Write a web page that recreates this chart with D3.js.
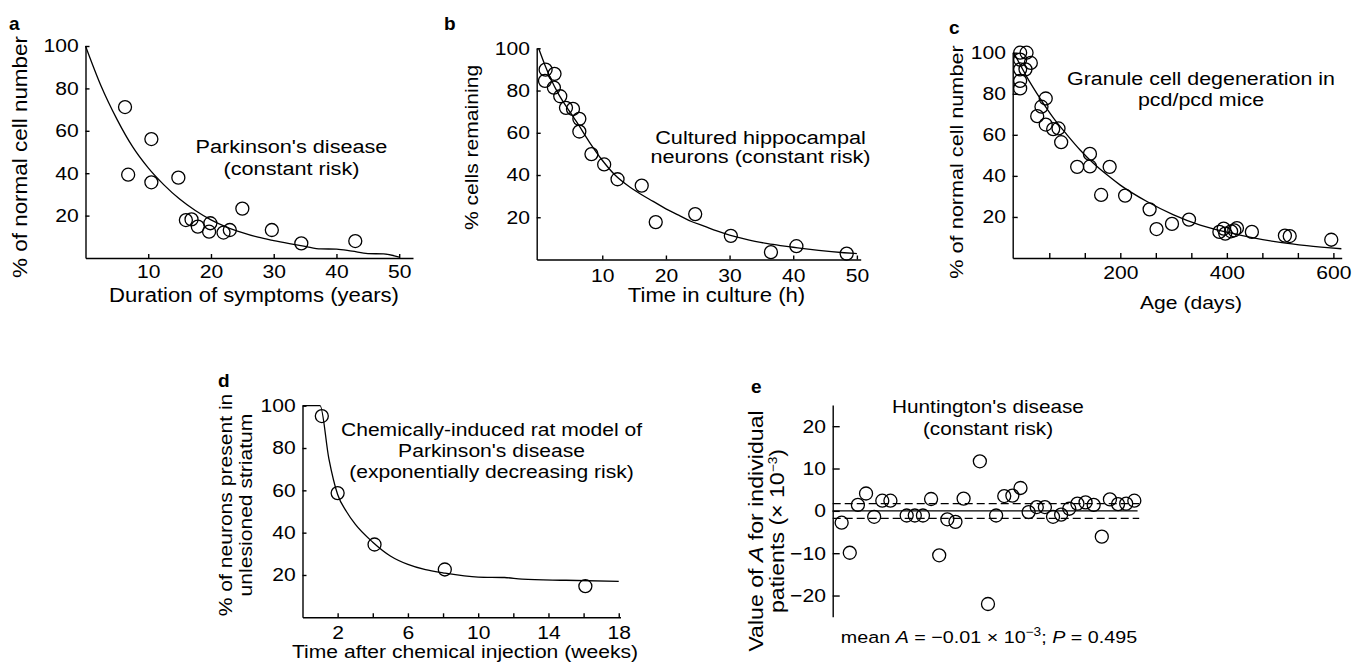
<!DOCTYPE html>
<html>
<head>
<meta charset="utf-8">
<script src="https://cdnjs.cloudflare.com/ajax/libs/d3/7.8.5/d3.min.js"></script>
<style>
body { margin: 0; background: #fff; }
svg text { font-family: "Liberation Sans", Arial, Helvetica, sans-serif; fill: #000; }
.axis path, .axis line { stroke: #000; stroke-width: 1.4; }
.axis text { font-size: 18.5px; font-family: "Liberation Sans", Arial, Helvetica, sans-serif; }
.fit { fill: none; stroke: #000; stroke-width: 1.3; }
.pt { fill: none; stroke: #000; stroke-width: 1.3; }
.letter { font-weight: bold; font-size: 19px; }
</style>
</head>
<body>
<svg id="fig" width="1364" height="669"></svg>
<script>
/* font is wider than Liberation Sans, so texts get a small horizontal stretch */
const FS = 18.5;
const SX = 1.14;

/* a : Parkinson's disease */
let aPtX = [6.3, 6.8, 10.5, 10.5, 14.8, 16.0, 16.9, 17.9, 19.9, 19.7, 22.0, 23.0, 25.0, 29.7, 34.4, 43.0];
let aPtY = [71.2, 39.3, 56.1, 35.7, 37.9, 17.9, 18.2, 14.8, 16.4, 12.4, 12.0, 13.2, 23.3, 13.2, 6.9, 8.0];
let aFitX = [0, 2.5, 5, 7.5, 10, 12.5, 15, 17.5, 20, 22.5, 25, 27.5, 30, 32.5, 35, 37.5, 40, 42.5, 45, 47.5, 50];
let aFitY = [100, 81, 65.5, 52.5, 42.5, 34.5, 27.8, 22.4, 18, 14.6, 12, 9.8, 8.2, 6.8, 5.5, 4.3, 4.2, 3.2, 2.1, 1.9, 0.4];

/* b : cultured hippocampal neurons */
let bPtX = [1.1, 1.0, 2.5, 2.4, 3.4, 4.3, 5.4, 6.4, 6.4, 8.3, 10.3, 12.4, 16.2, 18.4, 24.6, 30.2, 36.5, 40.5, 48.4];
let bPtY = [89.9, 84.6, 87.9, 81.4, 77.3, 71.8, 71.3, 66.6, 60.6, 49.9, 45.0, 38.0, 35.0, 17.7, 21.5, 11.2, 3.5, 6.3, 2.8];
let bFitX = [0, 1, 2, 3, 4, 5, 6, 8, 10, 12, 14, 16, 18, 20, 22, 24, 26, 28, 30, 32, 34, 36, 38, 40, 42, 44, 46, 48, 50];
let bFitY = [100, 92, 85, 79, 74, 69.5, 65, 55.5, 47, 40, 35, 31, 27.5, 24, 21, 18, 15.8, 13.5, 11.6, 10, 8.6, 7.5, 6.6, 5.8, 5, 4.3, 3.7, 3.2, 2.8];

/* c : granule cells in pcd/pcd mice */
let cPtX = [12, 24, 12, 32, 12, 22, 12, 12, 52, 60, 44, 60, 74, 84, 89, 119, 143, 143, 180, 164, 209, 255, 268, 297, 329, 386, 394, 397, 408, 414, 419, 447, 509, 518, 596];
let cPtY = [100, 100, 96.6, 95, 91.9, 91.9, 86.3, 82.6, 73.7, 77.7, 69.1, 65, 62.8, 63.1, 56.4, 44.4, 50.7, 44.6, 44.4, 30.7, 30.4, 23.7, 14.1, 16.6, 18.7, 12.7, 14.3, 11.9, 13, 13.5, 14.6, 12.7, 10.9, 10.7, 8.9];
let cFitX = [0, 25, 50, 75, 100, 125, 150, 175, 200, 250, 300, 350, 400, 450, 500, 550, 615];
let cFitY = [100, 88, 77.5, 68, 60, 52.5, 46, 40.5, 35.5, 27.5, 21, 16, 12.6, 9.8, 7.6, 6, 4.5];
let cTicks = [66.67, 133.33, 200, 266.67, 333.33, 400, 466.67, 533.33, 600];
let cLabels = [200, 400, 600];

/* d : chemically-induced rat model */
let dPtX = [1.1, 2.0, 4.1, 8.1, 16.1];
let dPtY = [95.1, 58.7, 34.4, 22.6, 14.7];
let dFitX = [0, 1, 1.5, 2, 2.5, 3, 4, 5, 6, 7, 8, 10, 11.5, 12.5, 15, 18];
let dFitY = [100, 100, 75, 58, 50, 44, 35.5, 29, 25, 22.5, 21, 19, 18.8, 18, 17.5, 17];
let dTicks = [2, 4, 6, 8, 10, 12, 14, 16, 18];
let dLabels = [2, 6, 10, 14, 18];

/* e : Huntington's disease, value of A per patient */
let ePatient = [0, 1, 2, 3, 4, 5, 6, 8, 9, 10, 11, 12, 13, 14, 15, 17, 18, 19, 20, 21, 22, 23, 24, 25, 26, 27, 28, 29, 30, 31, 32, 33, 34, 35, 36];
let eValue = [-2.8, -9.9, 1.4, 4.1, -1.4, 2.4, 2.4, -1.1, -1.1, -1.1, 2.8, -10.5, -2.0, -2.6, 2.9, 11.7, -22.0, -1.1, 3.5, 3.6, 5.4, -0.3, 0.9, 0.9, -1.4, -0.9, 0.5, 1.7, 2.0, 1.4, -6.1, 2.7, 1.6, 1.7, 2.4];
let eMean = -0.01;
let eBand = [1.7, -1.8];

let svg = d3.select("#fig");

function panel(p) {
    let g = svg.append("g");
    let x = d3.scaleLinear().domain(p.xDomain).range(p.xRange);
    let y = d3.scaleLinear().domain(p.yDomain).range(p.yRange);

    let yAxis = d3.axisLeft(y).tickValues(p.yTicks).tickSize(-p.tick).tickSizeOuter(0).tickPadding(6);
    g.append("g").attr("class", "axis").attr("transform", "translate(" + p.xRange[0] + ",0)").call(yAxis);

    if (p.xTicks) {
        let xAxis = d3.axisBottom(x).tickValues(p.xTicks).tickSize(-p.tick).tickSizeOuter(0).tickPadding(p.xPad)
            .tickFormat(function(d) { return p.xLabels.indexOf(d) >= 0 ? d : ""; });
        g.append("g").attr("class", "axis").attr("transform", "translate(0," + p.yRange[0] + ")").call(xAxis);
    }
    g.selectAll(".axis text").attr("transform", "scale(" + SX + ",1)");

    if (p.fitX) {
        let line = d3.line().x(function(d) { return x(d[0]); }).y(function(d) { return y(d[1]); }).curve(d3.curveMonotoneX);
        g.append("path").attr("class", "fit").datum(d3.zip(p.fitX, p.fitY)).attr("d", line);
    }
    g.selectAll("circle.pt")
        .data(d3.zip(p.ptX, p.ptY))
        .enter().append("circle")
        .attr("class", "pt")
        .attr("cx", function(d) { return x(d[0]); })
        .attr("cy", function(d) { return y(d[1]); })
        .attr("r", 6.5);
    return {g: g, x: x, y: y};
}

/* text lines; each line is a list of parts {t, i: italic, sup: superscript} or a plain string */
function label(x, y, lines, lh, rotate, size) {
    let t = svg.append("text")
        .attr("text-anchor", "middle")
        .attr("font-size", size || FS)
        .attr("transform", "translate(" + x + "," + y + ")" + (rotate ? " rotate(-90)" : "") + " scale(" + SX + ",1)");
    lines.forEach(function(ln, i) {
        let parts = typeof ln === "string" ? [{t: ln}] : ln;
        let first = true;
        let shift = 0;
        parts.forEach(function(pt) {
            let s = t.append("tspan").text(pt.t);
            if (first) { s.attr("x", 0).attr("y", i * lh); first = false; }
            if (pt.i) s.attr("font-style", "italic");
            let want = pt.sup ? -7 : 0;
            if (want !== shift) { s.attr("dy", want - shift); shift = want; }
            if (pt.sup) s.attr("font-size", 12);
        });
    });
    return t;
}

function letter(x, y, s) {
    svg.append("text").attr("class", "letter").attr("x", x).attr("y", y).text(s);
}

let ticks100 = [20, 40, 60, 80, 100];
let ticks50 = [10, 20, 30, 40, 50];

panel({xDomain: [0, 52.2], xRange: [85.5, 413], yDomain: [0, 100], yRange: [258, 46],
    xTicks: ticks50, xLabels: ticks50, yTicks: ticks100, tick: 4, xPad: 7,
    ptX: aPtX, ptY: aPtY, fitX: aFitX, fitY: aFitY});
panel({xDomain: [-0.3, 50.6], xRange: [536.7, 860.7], yDomain: [0, 100], yRange: [259.5, 48.3],
    xTicks: ticks50, xLabels: ticks50, yTicks: ticks100, tick: 4, xPad: 9,
    ptX: bPtX, ptY: bPtY, fitX: bFitX, fitY: bFitY});
panel({xDomain: [-2, 615.6], xRange: [1012.7, 1341.7], yDomain: [0, 100], yRange: [258, 52.7],
    xTicks: cTicks, xLabels: cLabels, yTicks: ticks100, tick: 5, xPad: 8,
    ptX: cPtX, ptY: cPtY, fitX: cFitX, fitY: cFitY});
panel({xDomain: [0, 18.1], xRange: [302.5, 620.5], yDomain: [0, 100], yRange: [617.3, 405.7],
    xTicks: dTicks, xLabels: dLabels, yTicks: ticks100, tick: 4, xPad: 9,
    ptX: dPtX, ptY: dPtY, fitX: dFitX, fitY: dFitY});
let e = panel({xDomain: [-1.1, 36.6], xRange: [832.7, 1139.2], yDomain: [-25, 25], yRange: [616.7, 405],
    yTicks: [-20, -10, 0, 10, 20], tick: 7,
    ptX: ePatient, ptY: eValue});

// mean line and dashed band in panel e
e.g.append("line").attr("x1", e.x.range()[0]).attr("x2", e.x(36.4))
    .attr("y1", e.y(eMean)).attr("y2", e.y(eMean)).attr("stroke", "#000").attr("stroke-width", 1.4);
e.g.selectAll("line.band").data(eBand).enter().append("line").attr("class", "band")
    .attr("x1", e.x.range()[0]).attr("x2", e.x.range()[1])
    .attr("y1", function(d) { return e.y(d); }).attr("y2", function(d) { return e.y(d); })
    .attr("stroke", "#000").attr("stroke-width", 1.3).attr("stroke-dasharray", "8,4");

// panel letters
letter(9, 30, "a");
letter(444, 30, "b");
letter(949, 34, "c");
letter(218, 387, "d");
letter(751, 393, "e");

// axis titles
label(27, 157, ["% of normal cell number"], 20, true, 19.7);
label(254, 302, ["Duration of symptoms (years)"], 20, false, 19.4);
label(478, 147.5, ["% cells remaining"], 20, true);
label(716.5, 302, ["Time in culture (h)"], 20, false, 19.4);
label(963, 162, ["% of normal cell number"], 20, true, 19);
label(1191, 309, ["Age (days)"], 20);
label(232, 505, ["% of neurons present in", "unlesioned striatum"], 20, true);
label(465, 658, ["Time after chemical injection (weeks)"], 20);
label(763, 531, [
    [{t: "Value of "}, {t: "A", i: true}, {t: " for individual"}],
    [{t: "patients (\u00d7 10"}, {t: "\u22123", sup: true}, {t: ")"}]
], 21, true, 20.3);
label(989, 643, [[{t: "mean "}, {t: "A", i: true}, {t: " = \u22120.01 \u00d7 10"}, {t: "\u22123", sup: true}, {t: "; "}, {t: "P", i: true}, {t: " = 0.495"}]], 20, false, 17.3);

// panel annotations
label(291.5, 153, ["Parkinson's disease", "(constant risk)"], 22, false, 19);
label(760.5, 143.5, ["Cultured hippocampal", "neurons (constant risk)"], 20, false, 19);
label(1201, 85, ["Granule cell degeneration in", "pcd/pcd  mice"], 21.5, false, 18.8);
label(491.5, 436, ["Chemically-induced rat model of", "Parkinson's  disease", "(exponentially decreasing risk)"], 21.2);
label(988, 413, ["Huntington's disease", "(constant risk)"], 22, false, 18.2);
</script>
</body>
</html>
